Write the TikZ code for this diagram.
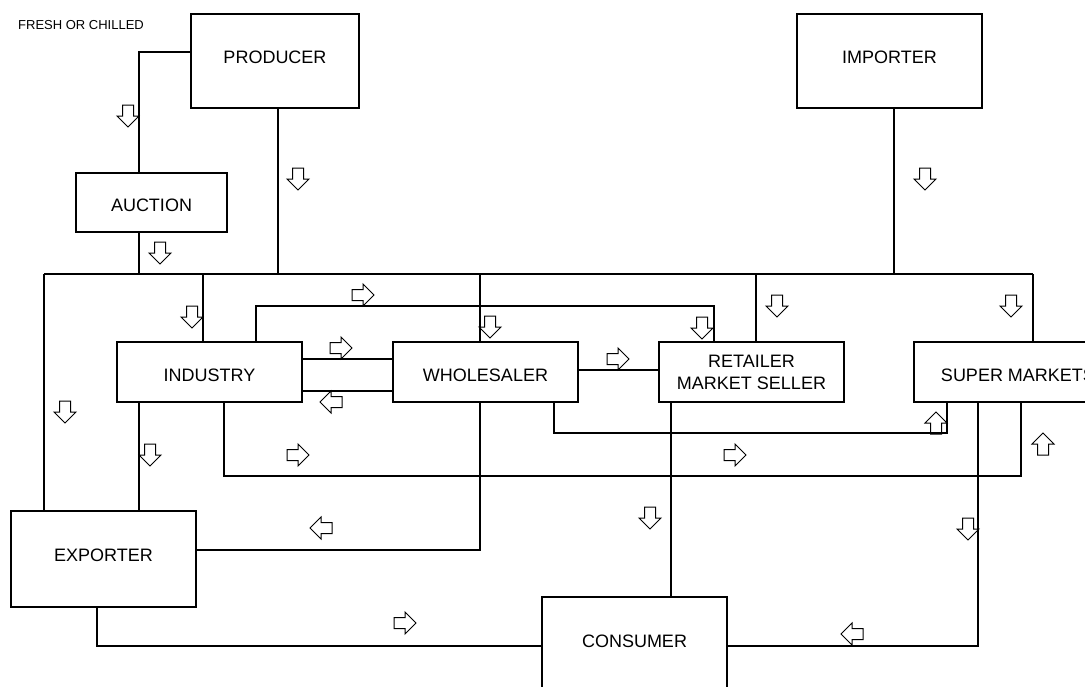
\documentclass[tikz,border=0pt]{standalone}
\usepackage{fontspec}
\setmainfont{Liberation Sans}
\tikzset{
  box/.style={draw, line width=1.2pt, minimum width=185pt, minimum height=60pt,
              inner sep=0pt, align=center, font=\fontsize{18}{22}\selectfont},
  lowtxt/.style={text height=19pt},
  tallbox/.style={box, minimum height=94pt, text depth=7pt},
  wire/.style={line width=1.2pt},
  note/.style={font=\fontsize{13}{15}\selectfont, inner sep=0pt},
  blkarr/.pic={\draw[line width=1pt, line join=miter]
      (-11,-5.5) -- (0,-5.5) -- (0,-11) -- (11,0) -- (0,11) -- (0,5.5) -- (-11,5.5) -- cycle;},
}
\begin{document}
\begin{tikzpicture}[x=1pt, y=-1pt]
  \useasboundingbox (0,0) rectangle (1085,686);
  \clip (0,0) rectangle (1085,686);
  \fill[white] (0,0) rectangle (1085,686);

  \node[note, anchor=west] (tag) at (18,25) {FRESH OR CHILLED};

  % boxes
  \node[tallbox, minimum width=168pt] (prod) at (275,61) {PRODUCER};
  \node[tallbox] (imp) at (889.5,61) {IMPORTER};
  \node[box, lowtxt, minimum width=151pt, minimum height=59pt] (auc) at (151.5,202.5) {AUCTION};
  \node[box, lowtxt] (ind) at (209.5,372) {INDUSTRY};
  \node[box, lowtxt] (whl) at (485.5,372) {WHOLESALER};
  \node[box] (ret) at (751.5,372) {RETAILER\\MARKET SELLER};
  \node[box, lowtxt, minimum width=208pt] (sup) at (1018,372) {SUPER MARKETS};
  \node[tallbox, minimum height=96pt] (exp) at (103.5,559) {EXPORTER};
  \node[tallbox, minimum height=96pt] (con) at (634.5,645) {CONSUMER};

  % taps on the supply bus
  \coordinate (bw) at (44,274);
  \coordinate (bauc) at (139,274);
  \coordinate (bind) at (203,274);
  \coordinate (bprod) at (278,274);
  \coordinate (bwhl) at (480,274);
  \coordinate (bret) at (756,274);
  \coordinate (bimp) at (894,274);
  \coordinate (be) at (1033,274);
  % bends
  \coordinate (pa) at (139,52);
  \coordinate (lp1) at (256,306);
  \coordinate (lp2) at (714,306);
  \coordinate (iwa) at (340,359);
  \coordinate (iwb) at (340,391);
  \coordinate (wr) at (615,370);
  \coordinate (ws1) at (554,433);
  \coordinate (ws2) at (947,433);
  \coordinate (is1) at (224,476);
  \coordinate (is2) at (1021,476);
  \coordinate (ie) at (139,455);
  \coordinate (we) at (480,550);
  \coordinate (rc) at (671,500);
  \coordinate (ec) at (97,646);
  \coordinate (sc) at (978,646);

  \draw[wire] (prod.west |- pa) -- (pa) -- (auc.north -| pa);
  \draw[wire] (bw) -- (be);
  \draw[wire] (bw) -- (exp.north -| bw);
  \draw[wire] (auc.south -| bauc) -- (bauc);
  \draw[wire] (prod.south -| bprod) -- (bprod);
  \draw[wire] (imp.south -| bimp) -- (bimp);
  \draw[wire] (bind) -- (ind.north -| bind);
  \draw[wire] (bwhl) -- (whl.north -| bwhl);
  \draw[wire] (bret) -- (ret.north -| bret);
  \draw[wire] (be) -- (sup.north -| be);
  \draw[wire] (ind.north -| lp1) -- (lp1) -- (lp2) -- (ret.north -| lp2);
  \draw[wire] (ind.east |- iwa) -- (whl.west |- iwa);
  \draw[wire] (whl.west |- iwb) -- (ind.east |- iwb);
  \draw[wire] (whl.east |- wr) -- (ret.west |- wr);
  \draw[wire] (whl.south -| ws1) -- (ws1) -- (ws2) -- (sup.south -| ws2);
  \draw[wire] (ind.south -| is1) -- (is1) -- (is2) -- (sup.south -| is2);
  \draw[wire] (ind.south -| ie) -- (exp.north -| ie);
  \draw[wire] (whl.south -| we) -- (we) -- (exp.east |- we);
  \draw[wire] (ret.south -| rc) -- (con.north -| rc);
  \draw[wire] (exp.south -| ec) -- (ec) -- (con.west |- ec);
  \draw[wire] (sup.south -| sc) -- (sc) -- (con.east |- sc);

  % flow marks
  \foreach \p in {(128,116),(298,179),(160,253),(925,179),(192,317),(490,327),
                  (702,328),(777,306),(1011,306),(65,412),(150,455),(650,518),(968,529)}
    \pic[rotate=-90] at \p {blkarr};
  \foreach \p in {(363,295),(341,348),(618,359),(298,455),(735,455),(405,623)}
    \pic at \p {blkarr};
  \foreach \p in {(331,402),(321,528),(852,634)}
    \pic[rotate=180] at \p {blkarr};
  \foreach \p in {(936,423),(1043,444)}
    \pic[rotate=90] at \p {blkarr};
\end{tikzpicture}
\end{document}
